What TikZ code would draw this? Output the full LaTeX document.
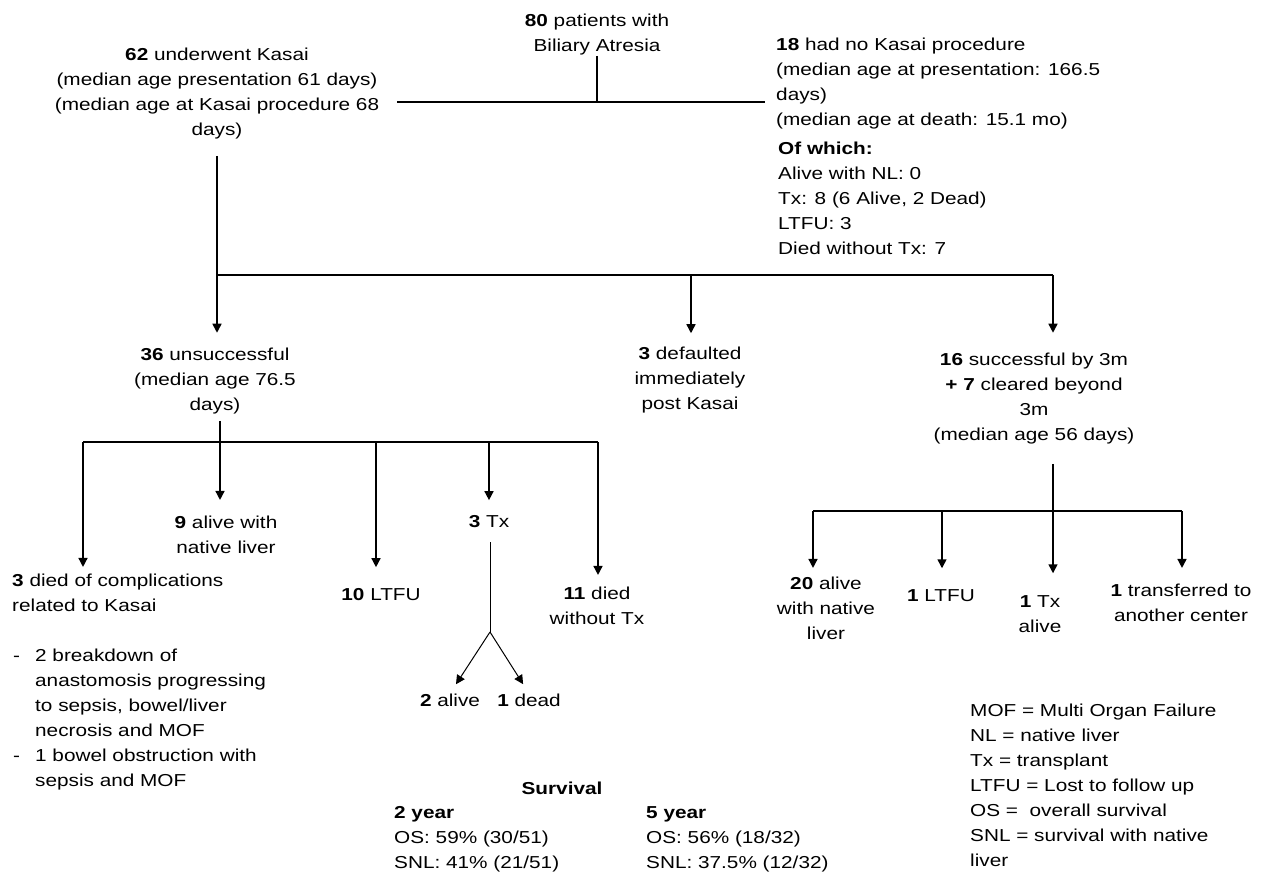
\documentclass[tikz,border=0pt]{standalone}
\usepackage{fontspec}
\setmainfont[FakeStretch=1.2]{Liberation Sans}
\usepackage{tikz}
\usetikzlibrary{arrows.meta, positioning}

\tikzstyle{txt}   = [inner sep=0pt, align=center, font=\fontsize{17.3pt}{25pt}\selectfont]
\tikzstyle{txtl}  = [txt, align=left]
\tikzstyle{link}  = [line width=1.5pt]
\tikzstyle{thin}  = [line width=1pt]
\tikzstyle{arrow} = [link, -{Triangle[length=9pt,width=9pt]}]

\begin{document}
\begin{tikzpicture}[x=1pt, y=-1pt]
\useasboundingbox (0,0) rectangle (1263,877);

% first split
\node (total) [txt] at (597,35) {\textbf{80} patients with\\Biliary Atresia};
\node (kasai) [txt] at (217,94) {\textbf{62} underwent Kasai\\(median age presentation 61 days)\\(median age at Kasai procedure 68\\days)};
\node (nokasai) [txtl, anchor=west] at (776,84) {\textbf{18} had no Kasai procedure\\(median age at presentation: 166.5\\days)\\(median age at death: 15.1 mo)};
\node (ofwhich) [txtl, anchor=west] at (778,198.5) {\textbf{Of which:}\\Alive with NL: 0\\Tx: 8 (6 Alive, 2 Dead)\\LTFU: 3\\Died without Tx: 7};

% outcome of Kasai
\node (unsucc) [txt] at (215,381.5) {\textbf{36} unsuccessful\\(median age 76.5\\days)};
\node (defaulted) [txt] at (690,380) {\textbf{3} defaulted\\immediately\\post Kasai};
\node (success) [txt] at (1034,399) {\textbf{16} successful by 3m\\\textbf{+ 7} cleared beyond\\3m\\(median age 56 days)};

% unsuccessful branch
\node (diedK) [txtl, anchor=west] at (12,592.5) {\textbf{3} died of complications\\related to Kasai};
\node (causes) [txt, anchor=west] at (13,718.5) {\begin{tabular}{@{}p{22pt}@{}l@{}}
- & 2 breakdown of\\ & anastomosis progressing\\ & to sepsis, bowel/liver\\ & necrosis and MOF\\
- & 1 bowel obstruction with\\ & sepsis and MOF\end{tabular}};
\node (nine) [txt] at (226,534.5) {\textbf{9} alive with\\native liver};
\node (ltfuU) [txt] at (381,595) {\textbf{10} LTFU};
\node (txU) [txt] at (489,522) {\textbf{3} Tx};
\node (diedU) [txt] at (597,605.5) {\textbf{11} died\\without Tx};
\node (alive2) [txt] at (450,700) {\textbf{2} alive};
\node (dead1) [txt] at (529,700) {\textbf{1} dead};

% successful branch
\node (alive20) [txt] at (826,608) {\textbf{20} alive\\with native\\liver};
\node (ltfuS) [txt] at (941,596) {\textbf{1} LTFU};
\node (txS) [txt] at (1040,614.5) {\textbf{1} Tx\\alive};
\node (transf) [txt] at (1181,602.5) {\textbf{1} transferred to\\another center};

% survival and legend
\node (survival) [txt] at (562,788) {\textbf{Survival}};
\node (yr2) [txtl, anchor=west] at (394,839.5) {\textbf{2 year}\\OS: 59\% (30/51)\\SNL: 41\% (21/51)};
\node (yr5) [txtl, anchor=west] at (646,839.5) {\textbf{5 year}\\OS: 56\% (18/32)\\SNL: 37.5\% (12/32)};
\node (legend) [txtl, anchor=west] at (970,785) {MOF = Multi Organ Failure\\NL = native liver\\Tx = transplant\\LTFU = Lost to follow up\\OS = \ overall survival\\SNL = survival with native\\liver};

% bus points
\coordinate (barL) at (397,102);
\coordinate (barR) at (765,102);
\coordinate (split) at (217,275);
\coordinate (splitM) at (691,275);
\coordinate (splitE) at (1053,275);
\coordinate (busU) at (220,442);
\coordinate (busUL) at (83,442);
\coordinate (busU3) at (376,442);
\coordinate (busU4) at (489,442);
\coordinate (busUR) at (598,442);
\coordinate (fork) at (490,632);
\coordinate (busS) at (1053,511);
\coordinate (busSL) at (813,511);
\coordinate (busS2) at (942,511);
\coordinate (busSR) at (1182,511);

% top lines
\draw [link] (barL) -- (barR);
\draw [link] (total.south) -- (total.south |- barL);
\draw [link, shorten <=16pt] (kasai.south) -- (split);
\draw [link] (split) -- (splitE);
\draw [arrow, shorten >=15.5pt] (split) -- (split |- unsucc.north);
\draw [arrow, shorten >=13.5pt] (splitM) -- (splitM |- defaulted.north);
\draw [arrow, shorten >=20.5pt] (splitE) -- (splitE |- success.north);

% unsuccessful
\draw [link, shorten <=6pt] (busU |- unsucc.south) -- (busU);
\draw [link] (busUL) -- (busUR);
\draw [arrow, shorten >=6.5pt] (busUL) -- (busUL |- diedK.north);
\draw [arrow, shorten >=15.5pt] (busU) -- (busU |- nine.north);
\draw [arrow, shorten >=21.5pt] (busU3) -- (busU3 |- ltfuU.north);
\draw [arrow, shorten >=15.5pt] (busU4) -- (busU4 |- txU.north);
\draw [arrow, shorten >=11.5pt] (busUR) -- (busUR |- diedU.north);
\draw [thin, shorten <=14pt] (fork |- txU.south) -- (fork);
\draw [arrow, thin, shorten >=11pt] (fork) -- (alive2.north);
\draw [arrow, thin, shorten >=11pt] (fork) -- (dead1.north);

% successful
\draw [arrow, shorten <=19pt, shorten >=22.5pt] (busS |- success.south) -- (busS |- txS.north);
\draw [link] (busSL) -- (busSR);
\draw [arrow, shorten >=8.5pt] (busSL) -- (busSL |- alive20.north);
\draw [arrow, shorten >=21.5pt] (busS2) -- (busS2 |- ltfuS.north);
\draw [arrow, shorten >=15.5pt] (busSR) -- (busSR |- transf.north);

\end{tikzpicture}
\end{document}
